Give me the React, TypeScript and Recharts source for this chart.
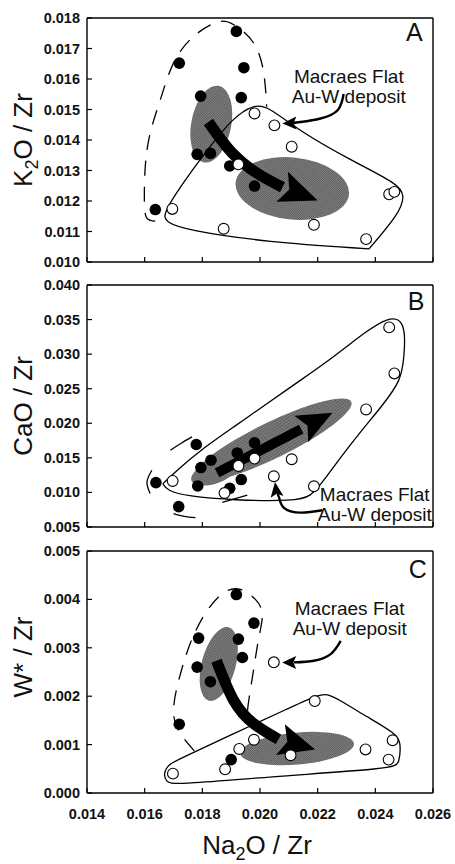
import { ScatterChart, Scatter, XAxis, YAxis } from "recharts";

const FONT = "'Liberation Sans', Arial, Helvetica, sans-serif";

// axis ticks
const xTicks = [0.014, 0.016, 0.018, 0.02, 0.022, 0.024, 0.026];
const kTicks = [0.01, 0.011, 0.012, 0.013, 0.014, 0.015, 0.016, 0.017, 0.018];
const caTicks = [0.005, 0.01, 0.015, 0.02, 0.025, 0.03, 0.035, 0.04];
const wTicks = [0, 0.001, 0.002, 0.003, 0.004, 0.005];

const noteLines = ["Macraes Flat", "Au-W deposit"];

// ---- panel A : K2O/Zr ----
const aFilled = [
  { x: 0.01918, y: 0.01756 }, { x: 0.0172, y: 0.01652 }, { x: 0.01944, y: 0.01637 },
  { x: 0.01794, y: 0.01544 }, { x: 0.01935, y: 0.01539 }, { x: 0.01782, y: 0.01353 },
  { x: 0.01828, y: 0.01356 }, { x: 0.01895, y: 0.01315 }, { x: 0.01981, y: 0.01249 },
  { x: 0.01637, y: 0.01172 },
];
const aOpen = [
  { x: 0.01981, y: 0.01487 }, { x: 0.0205, y: 0.01448 }, { x: 0.0211, y: 0.01378 },
  { x: 0.01925, y: 0.0132 }, { x: 0.01696, y: 0.01174 }, { x: 0.01874, y: 0.01109 },
  { x: 0.02187, y: 0.01122 }, { x: 0.02368, y: 0.01075 }, { x: 0.02448, y: 0.01222 },
  { x: 0.02466, y: 0.0123 },
];
const aHull = [
  { x: 0.01665, y: 0.01159 }, { x: 0.01723, y: 0.01246 }, { x: 0.01816, y: 0.01367 },
  { x: 0.01909, y: 0.01476 }, { x: 0.01978, y: 0.01515 }, { x: 0.02025, y: 0.01512 },
  { x: 0.02141, y: 0.01427 }, { x: 0.02315, y: 0.01334 }, { x: 0.02477, y: 0.01257 },
  { x: 0.02503, y: 0.01219 }, { x: 0.02483, y: 0.01159 }, { x: 0.02378, y: 0.01043 },
  { x: 0.02378, y: 0.01043 }, { x: 0.02378, y: 0.01043 }, { x: 0.02025, y: 0.01065 },
  { x: 0.01747, y: 0.01104 }, { x: 0.01671, y: 0.01131 },
];
const aEnvelope = [
  { x: 0.01637, y: 0.01134 }, { x: 0.01607, y: 0.01145 }, { x: 0.01599, y: 0.01202 },
  { x: 0.01602, y: 0.01312 }, { x: 0.01619, y: 0.01422 }, { x: 0.01654, y: 0.01531 },
  { x: 0.017, y: 0.01652 }, { x: 0.0177, y: 0.0174 }, { x: 0.01851, y: 0.01786 },
  { x: 0.01909, y: 0.01778 }, { x: 0.01978, y: 0.01718 }, { x: 0.02013, y: 0.01619 },
  { x: 0.02023, y: 0.01509 },
];
const aBlob1 = [{ x: 0.01831, y: 0.01452 }];
const aBlob2 = [{ x: 0.02112, y: 0.01241 }];
const aArrow = [
  { x: 0.01821, y: 0.01459 }, { x: 0.01904, y: 0.01357 }, { x: 0.01995, y: 0.01288 },
  { x: 0.02078, y: 0.01245 },
];
const aArrowTip = [{ x: 0.022, y: 0.01202 }];
const aNote = [{ x: 0.02308, y: 0.015882 }];
const aPointer = [
  { x: 0.0229, y: 0.01551 }, { x: 0.0227, y: 0.014984 }, { x: 0.0221, y: 0.014704 },
  { x: 0.02141, y: 0.014589 }, { x: 0.02113, y: 0.014556 },
];
const aPointerTip = [{ x: 0.02078, y: 0.01454 }];
const aLetter = [{ x: 0.02535, y: 0.01723 }];

// ---- panel B : CaO/Zr ----
const bFilled = [
  { x: 0.01779, y: 0.01693 }, { x: 0.01795, y: 0.0136 }, { x: 0.0183, y: 0.01466 },
  { x: 0.01784, y: 0.01094 }, { x: 0.01639, y: 0.01142 }, { x: 0.01718, y: 0.00795 },
  { x: 0.01921, y: 0.01571 }, { x: 0.01981, y: 0.01716 }, { x: 0.01935, y: 0.01186 },
  { x: 0.01895, y: 0.0106 },
];
const bOpen = [
  { x: 0.01697, y: 0.01166 }, { x: 0.01925, y: 0.01383 }, { x: 0.01981, y: 0.0149 },
  { x: 0.01877, y: 0.00992 }, { x: 0.02048, y: 0.01234 }, { x: 0.0211, y: 0.0148 },
  { x: 0.02187, y: 0.01089 }, { x: 0.02368, y: 0.022 }, { x: 0.02448, y: 0.03387 },
  { x: 0.02466, y: 0.02721 },
];
const bHull = [
  { x: 0.01663, y: 0.01125 }, { x: 0.01663, y: 0.01125 }, { x: 0.01712, y: 0.01321 },
  { x: 0.01793, y: 0.0161 }, { x: 0.01909, y: 0.01948 }, { x: 0.02025, y: 0.02287 },
  { x: 0.02141, y: 0.02624 }, { x: 0.02257, y: 0.02962 }, { x: 0.02373, y: 0.03348 },
  { x: 0.02442, y: 0.03518 }, { x: 0.02483, y: 0.03518 }, { x: 0.02504, y: 0.03348 },
  { x: 0.025, y: 0.02962 }, { x: 0.02489, y: 0.02624 }, { x: 0.02431, y: 0.02287 },
  { x: 0.02315, y: 0.01708 }, { x: 0.02222, y: 0.01176 }, { x: 0.02176, y: 0.00934 },
  { x: 0.02118, y: 0.00876 }, { x: 0.01909, y: 0.00886 }, { x: 0.01747, y: 0.00944 },
  { x: 0.01677, y: 0.01031 },
];
const bArc1 = [{ x: 0.01625, y: 0.01321 }, { x: 0.01608, y: 0.01151 }, { x: 0.01619, y: 0.00983 }];
const bArc2 = [{ x: 0.01689, y: 0.0161 }, { x: 0.01727, y: 0.01712 }, { x: 0.01764, y: 0.01803 }];
const bArc3 = [{ x: 0.017, y: 0.00693 }, { x: 0.01737, y: 0.00655 }, { x: 0.01776, y: 0.00635 }];
const bArc4 = [{ x: 0.01869, y: 0.00857 }, { x: 0.01956, y: 0.00962 }];
const bBlob1 = [{ x: 0.02042, y: 0.01755 }];
const bBlob2 = [{ x: 0.01835, y: 0.01262 }];
const bArrow = [{ x: 0.01851, y: 0.01282 }, { x: 0.02143, y: 0.01915 }];
const bArrowTip = [{ x: 0.02251, y: 0.02151 }];
const bNote = [{ x: 0.02398, y: 0.00876 }];
const bPointer = [
  { x: 0.02216, y: 0.00742 }, { x: 0.02141, y: 0.00708 }, { x: 0.02083, y: 0.00778 },
  { x: 0.02066, y: 0.0093 }, { x: 0.02059, y: 0.00973 },
];
const bPointerTip = [{ x: 0.02052, y: 0.01151 }];
const bLetter = [{ x: 0.02541, y: 0.03638 }];

// ---- panel C : W*/Zr ----
const cFilled = [
  { x: 0.01918, y: 0.0041 }, { x: 0.01979, y: 0.00351 }, { x: 0.01787, y: 0.0032 },
  { x: 0.01925, y: 0.00318 }, { x: 0.01939, y: 0.0028 }, { x: 0.01782, y: 0.0026 },
  { x: 0.01828, y: 0.0023 }, { x: 0.0172, y: 0.00142 }, { x: 0.019, y: 0.00069 },
];
const cOpen = [
  { x: 0.02048, y: 0.0027 }, { x: 0.0219, y: 0.0019 }, { x: 0.01979, y: 0.0011 },
  { x: 0.01928, y: 0.00091 }, { x: 0.02106, y: 0.00078 }, { x: 0.01879, y: 0.00049 },
  { x: 0.01698, y: 0.0004 }, { x: 0.02366, y: 0.0009 }, { x: 0.0246, y: 0.00109 },
  { x: 0.02446, y: 0.00069 },
];
const cHull = [
  { x: 0.01665, y: 0.000405 }, { x: 0.01683, y: 0.000596 }, { x: 0.01724, y: 0.000713 },
  { x: 0.01909, y: 0.001227 }, { x: 0.02083, y: 0.001705 }, { x: 0.02199, y: 0.002028 },
  { x: 0.02234, y: 0.002048 }, { x: 0.02269, y: 0.001946 }, { x: 0.02373, y: 0.001568 },
  { x: 0.02471, y: 0.001227 }, { x: 0.02489, y: 0.001054 }, { x: 0.02483, y: 0.00061 },
  { x: 0.02465, y: 0.000507 }, { x: 0.02025, y: 0.000335 }, { x: 0.017, y: 0.000164 },
  { x: 0.01674, y: 0.000232 },
];
const cEnvelope = [
  { x: 0.01772, y: 0.00087 }, { x: 0.01724, y: 0.001227 }, { x: 0.017, y: 0.001705 },
  { x: 0.01724, y: 0.002459 }, { x: 0.01764, y: 0.003178 }, { x: 0.01816, y: 0.00376 },
  { x: 0.01874, y: 0.004137 }, { x: 0.01932, y: 0.004206 }, { x: 0.01984, y: 0.004 },
  { x: 0.02008, y: 0.003692 }, { x: 0.01996, y: 0.003211 }, { x: 0.01979, y: 0.002595 },
  { x: 0.01961, y: 0.001911 }, { x: 0.01956, y: 0.001638 },
];
const cBlob1 = [{ x: 0.01857, y: 0.002665 }];
const cBlob2 = [{ x: 0.02129, y: 0.000918 }];
const cArrow = [
  { x: 0.01849, y: 0.002733 }, { x: 0.01909, y: 0.001911 }, { x: 0.01978, y: 0.001432 },
  { x: 0.02064, y: 0.00111 },
];
const cArrowTip = [{ x: 0.02191, y: 0.000897 }];
const cNote = [{ x: 0.02311, y: 0.003678 }];
const cPointer = [
  { x: 0.0228, y: 0.003144 }, { x: 0.02245, y: 0.00287 }, { x: 0.02187, y: 0.002733 },
  { x: 0.02118, y: 0.002698 },
];
const cPointerTip = [{ x: 0.02077, y: 0.002698 }];
const cLetter = [{ x: 0.02547, y: 0.004444 }];

// ---- shapes ----
const frame = { stroke: "#000", strokeWidth: 1.4 };
const noMark = () => <g />;
const filledDot = (p: any) => <circle cx={p.cx} cy={p.cy} r={5.8} fill="#000" />;
const openDot = (p: any) => (
  <circle cx={p.cx} cy={p.cy} r={5.4} fill="#fff" stroke="#000" strokeWidth={1.1} />
);

const blob = (rx: number, ry: number, rot: number) => (p: any) => (
  <g>
    <defs>
      <pattern id="stip" width={2} height={2} patternUnits="userSpaceOnUse">
        <rect width={2} height={2} fill="#8c8c8c" />
        <rect width={1} height={1} fill="#4a4a4a" />
        <rect x={1} y={1} width={1} height={1} fill="#5e5e5e" />
      </pattern>
    </defs>
    <ellipse
      cx={p.cx}
      cy={p.cy}
      rx={rx}
      ry={ry}
      transform={`rotate(${rot} ${p.cx} ${p.cy})`}
      fill="url(#stip)"
    />
  </g>
);

const head = (angle: number, len: number, half: number) => (p: any) => (
  <polygon
    points={`0,0 ${-len},${-half} ${-len * 0.8},0 ${-len},${half}`}
    transform={`translate(${p.cx} ${p.cy}) rotate(${angle})`}
    fill="#000"
  />
);

const note = (p: any) => (
  <text x={p.cx} y={p.cy} textAnchor="middle" fontFamily={FONT} fontSize={19} fill="#111">
    <tspan x={p.cx}>{noteLines[0]}</tspan>
    <tspan x={p.cx} dy={20}>
      {noteLines[1]}
    </tspan>
  </text>
);

const letter = (s: string) => (p: any) => (
  <text x={p.cx} y={p.cy} textAnchor="middle" fontFamily={FONT} fontSize={25} fill="#111">
    {s}
  </text>
);

// ---- ticks ----
const tickText = { fontFamily: FONT, fontSize: 14.5, fontWeight: 700, fill: "#111" };
const LeftTick = (p: any) => (
  <g>
    <line x1={p.x} y1={p.y} x2={p.x + 5} y2={p.y} stroke="#000" strokeWidth={1.2} />
    <text x={p.x - 7} y={p.y + 5} textAnchor="end" {...tickText}>
      {p.payload.value.toFixed(3)}
    </text>
  </g>
);
const RightTick = (p: any) => (
  <line x1={p.x} y1={p.y} x2={p.x - 5} y2={p.y} stroke="#000" strokeWidth={1.2} />
);
const TopTick = (p: any) => (
  <line x1={p.x} y1={p.y} x2={p.x} y2={p.y + 5} stroke="#000" strokeWidth={1.2} />
);
const BottomTick = (p: any) => (
  <line x1={p.x} y1={p.y} x2={p.x} y2={p.y - 5} stroke="#000" strokeWidth={1.2} />
);
const BottomTickLabel = (p: any) => (
  <g>
    <line x1={p.x} y1={p.y} x2={p.x} y2={p.y - 5} stroke="#000" strokeWidth={1.2} />
    <text x={p.x} y={p.y + 25.5} textAnchor="middle" {...tickText}>
      {p.payload.value.toFixed(3)}
    </text>
  </g>
);

const YTitle = ({ viewBox, main, sub, rest, shift = 0 }: any) => {
  const vb = viewBox || { x: 0, y: 0, width: 87, height: 244 };
  const cx = vb.x + 32;
  const cy = vb.y + vb.height / 2 + shift;
  return (
    <text
      x={cx}
      y={cy}
      transform={`rotate(-90 ${cx} ${cy})`}
      textAnchor="middle"
      fontFamily={FONT}
      fontSize={26}
      fill="#111"
    >
      <tspan>{main}</tspan>
      {sub ? (
        <tspan fontSize={18} dy={6}>
          {sub}
        </tspan>
      ) : null}
      <tspan dy={sub ? -6 : 0}>{rest}</tspan>
    </text>
  );
};

const XTitle = ({ viewBox }: any) => {
  const vb = viewBox || { x: 87, y: 793, width: 346, height: 1 };
  const cx = vb.x + vb.width / 2 - 3;
  const cy = vb.y + 61;
  return (
    <text x={cx} y={cy} textAnchor="middle" fontFamily={FONT} fontSize={26} fill="#111">
      <tspan>Na</tspan>
      <tspan fontSize={18} dy={6}>
        2
      </tspan>
      <tspan dy={-6}>O / Zr</tspan>
    </text>
  );
};

// ---- layer helpers ----
const hull = (key: string, data: any[]) => (
  <Scatter key={key} data={data} fill="#000" line={{ stroke: "#000", strokeWidth: 1.3, fill: "none" }}
    lineJointType="basisClosed" shape={noMark} isAnimationActive={false} />
);
const curve = (key: string, data: any[], width: number, dash?: string) => (
  <Scatter key={key} data={data} fill="#000"
    line={{ stroke: "#000", strokeWidth: width, fill: "none", strokeDasharray: dash }}
    lineJointType="natural" shape={noMark} isAnimationActive={false} />
);
const marks = (key: string, data: any[], shape: any) => (
  <Scatter key={key} data={data} fill="#000" shape={shape} isAnimationActive={false} />
);

// plot box: x 87..433; thin (1px) top/bottom/right axes so they get drawn
const Panel = ({ top, height, mTop, mBottom, yDomain, yTicks, yTitle, labelled, children }: any) => (
  <div style={{ position: "absolute", left: 0, top, width: 455, height }}>
    <ScatterChart width={455} height={height} margin={{ top: mTop - 1, right: 21, bottom: mBottom - 1, left: 0 }}>
      <XAxis type="number" dataKey="x" domain={[0.014, 0.026]} ticks={xTicks} interval={0}
        height={1} tickSize={0} tickMargin={0} tickLine={false} axisLine={frame}
        tick={labelled ? BottomTickLabel : BottomTick} label={labelled ? <XTitle /> : undefined} />
      <XAxis xAxisId="top" orientation="top" type="number" dataKey="x" domain={[0.014, 0.026]}
        ticks={xTicks} interval={0} height={1} tickSize={0} tickMargin={0} tickLine={false}
        axisLine={frame} tick={TopTick} />
      <YAxis type="number" dataKey="y" domain={yDomain} ticks={yTicks} interval={0} width={87}
        tickSize={0} tickMargin={0} tickLine={false} axisLine={frame} tick={LeftTick} label={yTitle} />
      <YAxis yAxisId="right" orientation="right" type="number" dataKey="y" domain={yDomain}
        ticks={yTicks} interval={0} width={1} tickSize={0} tickMargin={0} tickLine={false}
        axisLine={frame} tick={RightTick} />
      {children}
    </ScatterChart>
  </div>
);

export default function App() {
  return (
    <div style={{ position: "absolute", left: 0, top: 0, width: 455, height: 864, background: "#fff" }}>
      <Panel top={0} height={280} mTop={18} mBottom={18} yDomain={[0.01, 0.018]} yTicks={kTicks}
        yTitle={<YTitle main="K" sub="2" rest="O / Zr" />}>
        {marks("ab1", aBlob1, blob(20, 39, 11))}
        {marks("ab2", aBlob2, blob(57, 31, 6))}
        {hull("ah", aHull)}
        {curve("ae", aEnvelope, 1.3, "15 11")}
        {curve("aa", aArrow, 11)}
        {marks("aat", aArrowTip, head(21, 38, 16))}
        {curve("ap", aPointer, 2.4)}
        {marks("apt", aPointerTip, head(178, 14, 6.5))}
        {marks("af", aFilled, filledDot)}
        {marks("ao", aOpen, openDot)}
        {marks("an", aNote, note)}
        {marks("al", aLetter, letter("A"))}
      </Panel>
      <Panel top={270} height={280} mTop={15} mBottom={23} yDomain={[0.005, 0.04]} yTicks={caTicks}
        yTitle={<YTitle main="CaO / Zr" rest="" />}>
        {marks("bb1", bBlob1, blob(88, 18, -26))}
        {marks("bb2", bBlob2, blob(22, 10, -15))}
        {hull("bh", bHull)}
        {curve("bc1", bArc1, 1.3)}
        {curve("bc2", bArc2, 1.3)}
        {curve("bc3", bArc3, 1.3)}
        {curve("bc4", bArc4, 1.3)}
        {curve("ba", bArrow, 10)}
        {marks("bat", bArrowTip, head(-27.5, 35, 15))}
        {curve("bp", bPointer, 2.4)}
        {marks("bpt", bPointerTip, head(-98, 15, 6.5))}
        {marks("bf", bFilled, filledDot)}
        {marks("bo", bOpen, openDot)}
        {marks("bn", bNote, note)}
        {marks("bl", bLetter, letter("B"))}
      </Panel>
      <Panel top={540} height={324} mTop={11} mBottom={71} yDomain={[0, 0.005]} yTicks={wTicks}
        labelled yTitle={<YTitle main="W* / Zr" rest="" shift={-15} />}>
        {marks("cb1", cBlob1, blob(17, 38, 15))}
        {marks("cb2", cBlob2, blob(57, 16, -5))}
        {hull("ch", cHull)}
        {curve("ce", cEnvelope, 1.3, "15 11")}
        {curve("ca", cArrow, 11)}
        {marks("cat", cArrowTip, head(16, 36, 16))}
        {curve("cp", cPointer, 2.4)}
        {marks("cpt", cPointerTip, head(180, 14, 6.5))}
        {marks("cf", cFilled, filledDot)}
        {marks("co", cOpen, openDot)}
        {marks("cn", cNote, note)}
        {marks("cl", cLetter, letter("C"))}
      </Panel>
    </div>
  );
}
